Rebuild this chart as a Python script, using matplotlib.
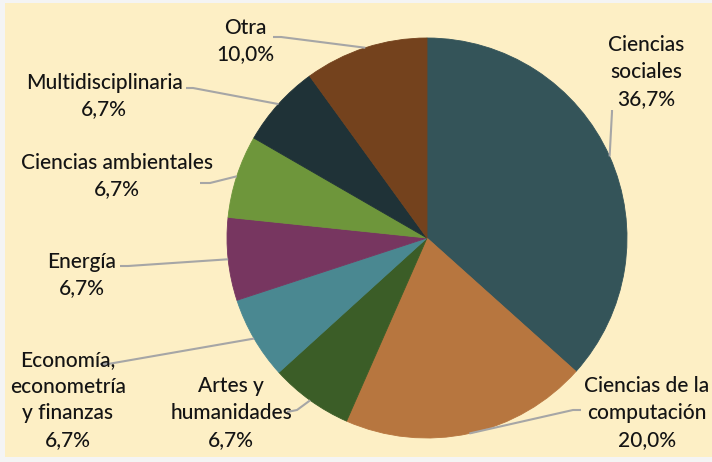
import numpy as np
import matplotlib
matplotlib.use("Agg")
import matplotlib.pyplot as plt
from matplotlib.patches import Rectangle

categories = ["Ciencias\nsociales", "Ciencias de la\ncomputación", "Artes y\nhumanidades",
              "Economía,\neconometría\ny finanzas", "Energía", "Ciencias ambientales",
              "Multidisciplinaria", "Otra"]
values = [36.7, 20.0, 6.7, 6.7, 6.7, 6.7, 6.7, 10.0]
pct_labels = ["36,7%", "20,0%", "6,7%", "6,7%", "6,7%", "6,7%", "6,7%", "10,0%"]
colors = ["#345459", "#B7763F", "#3B5D27", "#4A8891", "#773660", "#6E963B", "#1F3237", "#74421D"]

W, H = 712, 462
fig = plt.figure(figsize=(W / 100, H / 100), dpi=100)
fig.patch.set_facecolor("#F4F4F4")
ax = fig.add_axes([0, 0, 1, 1])

def py(y):
    return H - y

ax.add_patch(Rectangle((5, py(457)), W - 5, 454, facecolor="#FDEFC5", edgecolor="none", zorder=0))

cx, cy, R = 427, 238, 200
wedges, _ = ax.pie(values, colors=colors, startangle=90, counterclock=False,
                   center=(cx, py(cy)), radius=R, frame=True,
                   wedgeprops=dict(linewidth=0.6))
for w in wedges:
    w.set_edgecolor(w.get_facecolor())
ax.set_xlim(0, W)
ax.set_ylim(0, H)
ax.set_aspect("equal")
ax.axis("off")

# text centers (pixel coords) and leader-line start points
text_pos = [(646, 72), (647, 413), (231, 413), (68, 400), (82, 275), (117, 176), (104, 96), (245, 41)]
line_start = [(612, 110), (581, 410), (287, 412), (100, 364), (120, 266), (200, 183), (186, 88), (273, 37)]
line_elbow = [(612, 112), (573, 410), (297, 410), (108, 364), (128, 266), (210, 183), (193, 88), (281, 37)]

for w, lab, pct, (tx, ty), s, e in zip(wedges, categories, pct_labels, text_pos, line_start, line_elbow):
    ang = np.deg2rad((w.theta1 + w.theta2) / 2)
    ex = cx + R * np.cos(ang)
    ey = py(cy) + R * np.sin(ang)
    ax.text(tx, py(ty), lab + "\n" + pct, ha="center", va="center", fontsize=15,
            family="Lato", fontweight="medium", color="#141414", linespacing=1.42, zorder=5)
    ax.plot([s[0], e[0], ex], [py(s[1]), py(e[1]), ey], color="#A6A6A6", lw=1.5,
            zorder=4, solid_capstyle="butt")

fig.savefig("out.png", dpi=100, facecolor=fig.get_facecolor())
